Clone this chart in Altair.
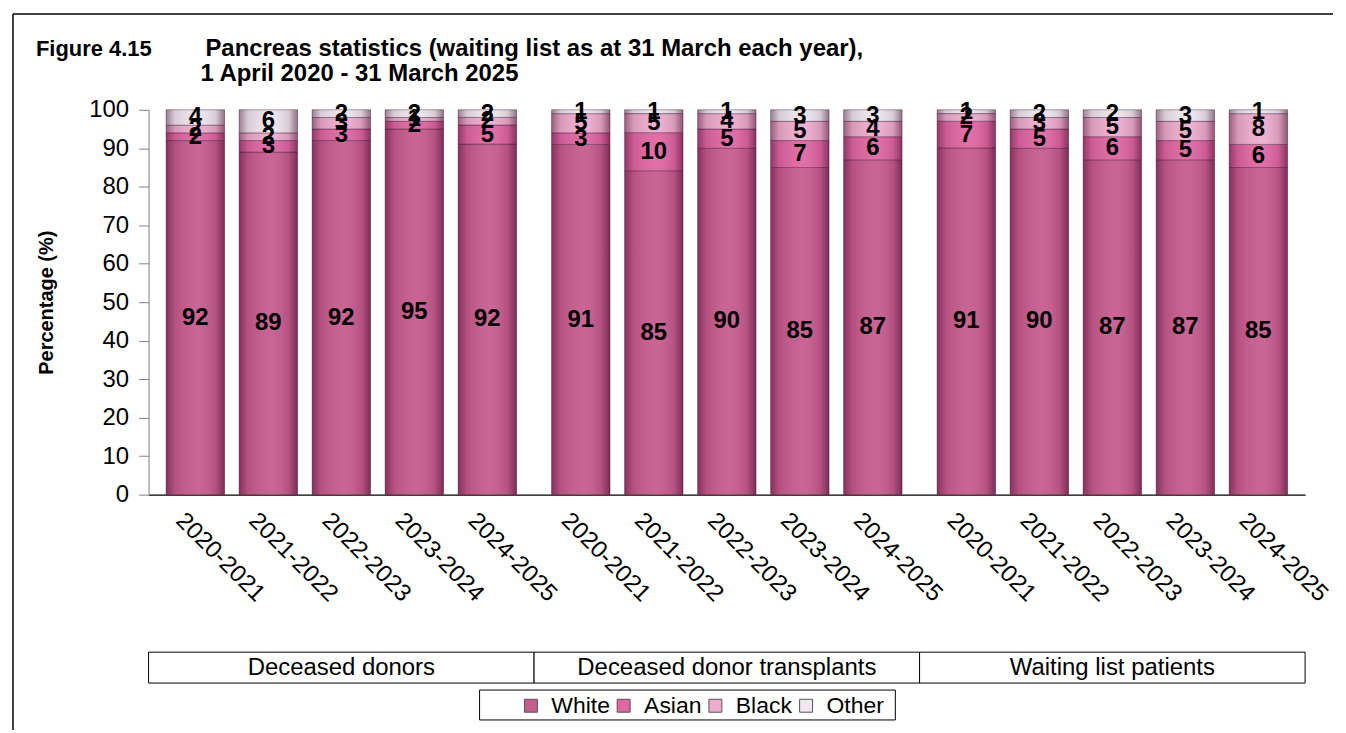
import altair as alt
import pandas as pd

FONT = "Liberation Sans"

title_fig = "Figure 4.15"
title_main = "Pancreas statistics (waiting list as at 31 March each year),"
title_sub = "1 April 2020 - 31 March 2025"
y_title = "Percentage (%)"

groups = ["Deceased donors", "Deceased donor transplants", "Waiting list patients"]
years = ["2020-2021", "2021-2022", "2022-2023", "2023-2024", "2024-2025"]
races = ["White", "Asian", "Black", "Other"]
race_colors = ["#c65c8e", "#e067a3", "#eeadcf", "#eee7ef"]

white = [92, 89, 92, 95, 92, 91, 85, 90, 85, 87, 91, 90, 87, 87, 85]
asian = [2, 3, 3, 2, 5, 3, 10, 5, 7, 6, 7, 5, 6, 5, 6]
black = [2, 2, 3, 1, 2, 5, 5, 4, 5, 4, 2, 3, 5, 5, 8]
other = [4, 6, 2, 2, 2, 1, 1, 1, 3, 3, 1, 2, 2, 3, 1]

rows = []
for gi, g in enumerate(groups):
    for yi, yr in enumerate(years):
        i = gi * len(years) + yi
        for ri, (r, vals) in enumerate(zip(races, [white, asian, black, other])):
            rows.append({"group": g, "year": yr, "race": r, "rk": ri, "value": vals[i]})
df = pd.DataFrame(rows)
gdf = pd.DataFrame({"group": groups})

base = (
    alt.Chart(df)
    .transform_joinaggregate(total="sum(value)", groupby=["group", "year"])
    .transform_calculate(pct="datum.value / datum.total * 100")
    .transform_stack(stack="pct", groupby=["group", "year"], as_=["y0", "y1"],
                     sort=[alt.SortField("rk", order="ascending")])
    .transform_calculate(mid="(datum.y0 + datum.y1) / 2")
)

yaxis = alt.Axis(values=list(range(0, 101, 10)), grid=False, tickSize=10, tickColor="#808080",
                 domainColor="#808080", labelFontSize=24, labelColor="black", labelPadding=10,
                 titleFontSize=20, titleFontWeight="bold", titleColor="black", titlePadding=32,
                 labelFont=FONT, titleFont=FONT)
yscale = alt.Scale(domain=[0, 100], nice=False)

xenc = alt.X("group:N", sort=groups, scale=alt.Scale(paddingInner=0, paddingOuter=0),
             axis=alt.Axis(labels=False, ticks=False, title=None, domainColor="black", domainWidth=1.2))
xoff = alt.XOffset("year:N", sort=years, scale=alt.Scale(paddingInner=0.2, paddingOuter=0.24))

# legend frame drawn first so the legend sits on top of it
frame_df = pd.DataFrame({"k": [0]})
legend_box = alt.Chart(frame_df).mark_rect(fill="white", stroke="black", strokeWidth=1).encode(
    x=alt.value(332), x2=alt.value(749), y=alt.value(582), y2=alt.value(612)
)

bars = base.mark_bar(stroke="#4a1f38", strokeWidth=1, strokeOpacity=0.45).encode(
    x=xenc, xOffset=xoff,
    y=alt.Y("y0:Q", scale=yscale, axis=yaxis, title=y_title),
    y2="y1:Q",
    color=alt.Color("race:N", sort=races, scale=alt.Scale(domain=races, range=race_colors),
                    legend=alt.Legend(orient="none", legendX=370, legendY=584, direction="horizontal",
                                      title=None, symbolType="square", symbolSize=169,
                                      symbolStrokeColor="#555", symbolStrokeWidth=1,
                                      labelFontSize=23, labelFont=FONT, labelColor="black",
                                      padding=2, columnPadding=2, labelOffset=9)),
)

grad = alt.LinearGradient(
    gradient="linear", x1=0, x2=1, y1=0, y2=0,
    stops=[
        alt.GradientStop(color="rgba(50,0,30,0.45)", offset=0),
        alt.GradientStop(color="rgba(50,0,30,0.12)", offset=0.15),
        alt.GradientStop(color="rgba(255,255,255,0.06)", offset=0.55),
        alt.GradientStop(color="rgba(50,0,30,0.12)", offset=0.85),
        alt.GradientStop(color="rgba(50,0,30,0.5)", offset=1),
    ],
)
shade = base.mark_bar(fill=grad).encode(
    x=xenc, xOffset=xoff,
    y=alt.Y("y0:Q", scale=yscale, axis=yaxis, title=y_title),
    y2="y1:Q",
)

vals = base.mark_text(font=FONT, fontSize=24, fontWeight="bold", color="black", baseline="middle").encode(
    x=xenc, xOffset=xoff,
    y=alt.Y("mid:Q", scale=yscale, axis=yaxis, title=y_title),
    text="value:Q",
)

year_lbl = base.transform_filter("datum.rk == 0").mark_text(
    font=FONT, fontSize=24, color="black", angle=45, align="left", baseline="top", dx=-5, dy=5
).encode(x=xenc, xOffset=xoff, y=alt.value(400), text="year:N")

boxes = alt.Chart(gdf).mark_rect(fill="white", stroke="black", strokeWidth=1).encode(
    x=xenc, y=alt.value(544), y2=alt.value(575)
)
box_txt = alt.Chart(gdf).mark_text(font=FONT, fontSize=24, color="black", baseline="middle").encode(
    x=xenc, y=alt.value(560), text="group:N"
)

t1 = alt.Chart(pd.DataFrame({"t": [title_fig]})).mark_text(
    font=FONT, fontSize=22, fontWeight="bold", align="left", baseline="alphabetic", color="black"
).encode(x=alt.value(-113), y=alt.value(-54), text="t:N")
t2 = alt.Chart(pd.DataFrame({"t": [title_main]})).mark_text(
    font=FONT, fontSize=24, fontWeight="bold", align="left", baseline="alphabetic", color="black"
).encode(x=alt.value(57), y=alt.value(-54), text="t:N")
t3 = alt.Chart(pd.DataFrame({"t": [title_sub]})).mark_text(
    font=FONT, fontSize=24, fontWeight="bold", align="left", baseline="alphabetic", color="black"
).encode(x=alt.value(52), y=alt.value(-29), text="t:N")

frame_left = alt.Chart(frame_df).mark_rule(color="black", strokeWidth=1.5).encode(
    x=alt.value(-136), y=alt.value(-96), y2=alt.value(622)
)
frame_top = alt.Chart(frame_df).mark_rule(color="black", strokeWidth=1.5).encode(
    x=alt.value(-136), x2=alt.value(1188), y=alt.value(-96)
)

chart = (
    alt.layer(legend_box, bars, shade, vals, year_lbl, boxes, box_txt, t1, t2, t3, frame_left, frame_top)
    .properties(width=1160, height=386, padding={"left": 4, "top": 4, "right": 4, "bottom": 4})
    .configure(font=FONT)
    .configure_view(stroke=None)
)

chart.save("out.html", embed_options={"renderer": "svg", "actions": False})
